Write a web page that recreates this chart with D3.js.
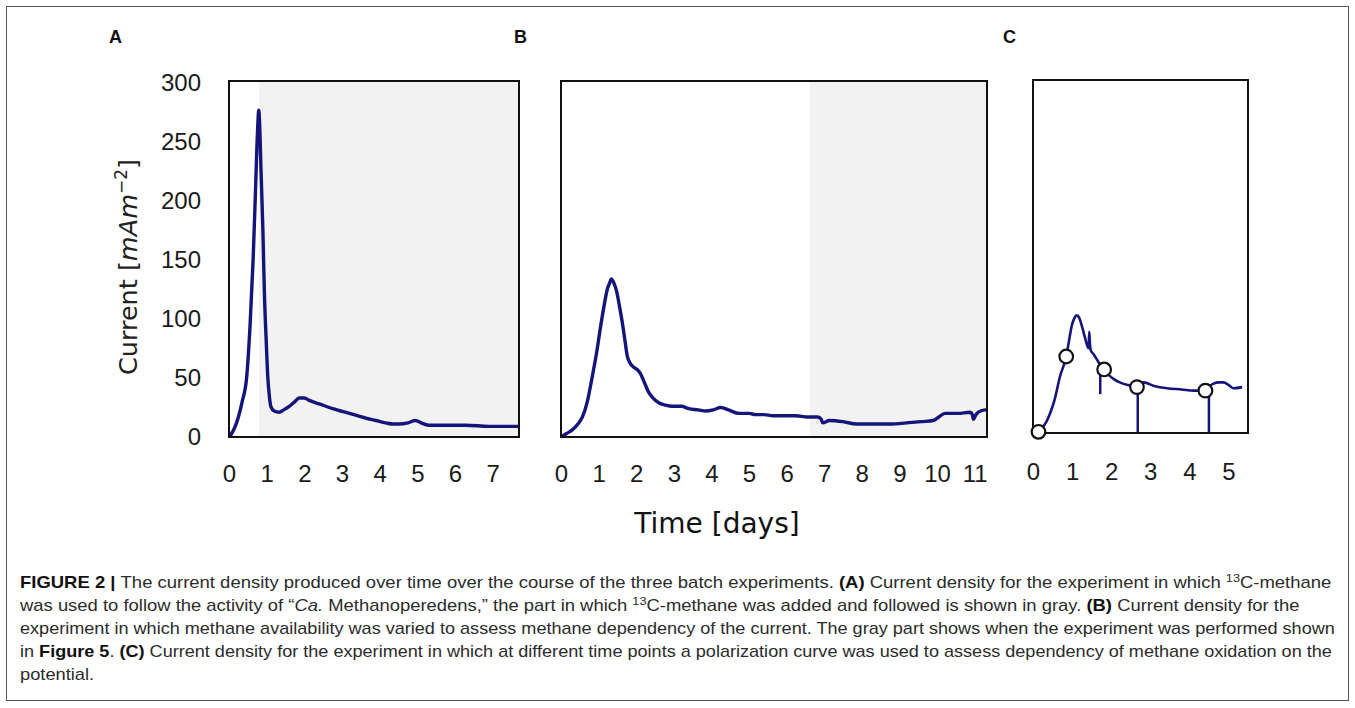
<!DOCTYPE html>
<html>
<head>
<meta charset="utf-8">
<script src="https://cdn.jsdelivr.net/npm/d3@7"></script>
<style>
  html, body { margin: 0; padding: 0; background: #fff; }
  svg { display: block; }
</style>
</head>
<body>
<svg id="chart" width="1355" height="708"></svg>
<script>
// ---------------- DATA ----------------
const yTicks = [0, 50, 100, 150, 200, 250, 300];
const aTicks = [0, 1, 2, 3, 4, 5, 6, 7];
const bTicks = [0, 1, 2, 3, 4, 5, 6, 7, 8, 9, 10, 11];
const cTicks = [0, 1, 2, 3, 4, 5];

// Panel A (days, mA m^-2)
const aDays    = [0.02, 0.07, 0.2, 0.35, 0.47, 0.56, 0.64, 0.70, 0.74, 0.77, 0.79, 0.81, 0.85, 0.90, 0.94, 0.99, 1.03, 1.07, 1.11, 1.20, 1.33, 1.45, 1.60, 1.75, 1.86, 2.00, 2.13, 2.40, 2.75, 3.20, 3.63, 3.90, 4.16, 4.35, 4.51, 4.75, 4.95, 5.10, 5.30, 5.80, 6.28, 6.90, 7.60, 7.68];
const aCurrent = [1, 3, 12, 30, 51, 95, 150, 205, 245, 268, 277, 268, 226, 175, 122, 80, 51, 35, 26, 22, 21, 23, 26, 30, 33, 33, 31, 28, 24, 20, 16, 14, 12, 11, 11, 12, 14, 12, 10, 10, 10, 9, 9, 9];
const aGrayStart = 0.8;

// Panel B
const bDays    = [0.0, 0.15, 0.30, 0.45, 0.57, 0.70, 0.83, 0.95, 1.05, 1.15, 1.23, 1.30, 1.34, 1.40, 1.49, 1.56, 1.63, 1.70, 1.76, 1.85, 1.94, 2.03, 2.11, 2.22, 2.33, 2.45, 2.60, 2.78, 2.96, 3.20, 3.40, 3.65, 3.85, 4.05, 4.25, 4.45, 4.74, 5.00, 5.18, 5.40, 5.63, 5.95, 6.25, 6.55, 6.83, 6.92, 6.96, 7.14, 7.50, 7.86, 8.30, 8.80, 9.19, 9.60, 9.90, 10.05, 10.21, 10.55, 10.88, 10.94, 10.97, 11.02, 11.10, 11.28, 11.33];
const bCurrent = [0, 3, 6, 11, 17, 30, 51, 72, 93, 112, 125, 131, 134, 131, 122, 110, 97, 82, 69, 62, 59, 57, 54, 46, 38, 33, 29, 27, 26, 26, 24, 23, 22, 23, 25, 23, 20, 20, 19, 19, 18, 18, 18, 17, 17, 15, 12, 14, 13, 11, 11, 11, 12, 13, 14, 17, 20, 20, 21, 19, 15, 18, 21, 23, 23];
const bGrayStart = 6.62;

// Panel C
const cDays    = [0.14, 0.25, 0.35, 0.44, 0.55, 0.69, 0.85, 0.93, 0.99, 1.05, 1.12, 1.18, 1.25, 1.33, 1.42, 1.44, 1.46, 1.48, 1.55, 1.68, 1.82, 1.95, 2.06, 2.22, 2.40, 2.55, 2.66, 2.75, 2.83, 3.10, 3.43, 3.80, 4.11, 4.41, 4.52, 4.62, 4.75, 4.87, 5.00, 5.13, 5.35];
const cCurrent = [1, 5, 10, 17, 28, 48, 65, 80, 91, 97, 100, 98, 91, 81, 72, 86, 74, 70, 67, 60, 54, 49, 46, 43, 41, 40, 40, 42, 43, 40, 38, 37, 36, 36, 40, 42, 43, 43, 41, 38, 39];
const cMarkDays    = [0.14, 0.85, 1.82, 2.66, 4.41];
const cMarkCurrent = [1, 65, 54, 39, 36];
const cDropDays   = [1.72, 2.68, 4.50];
const cDropTop    = [56, 40, 38];
const cDropBottom = [33, 0, 0];

const panelLetters = ["A", "B", "C"];
const yTitle = "Current";
const xTitle = "Time [days]";

const captionLines = [
  [["b", "FIGURE 2 | "], ["n", "The current density produced over time over the course of the three batch experiments. "], ["b", "(A)"], ["n", " Current density for the experiment in which "], ["sup", "13"], ["n2", "C-methane"]],
  [["n", "was used to follow the activity of \u201C"], ["i", "Ca."], ["n", " Methanoperedens,\u201D the part in which "], ["sup", "13"], ["n2", "C-methane was added and followed is shown in gray. "], ["b", "(B)"], ["n", " Current density for the"]],
  [["n", "experiment in which methane availability was varied to assess methane dependency of the current. The gray part shows when the experiment was performed shown"]],
  [["n", "in "], ["b", "Figure 5"], ["n", ". "], ["b", "(C)"], ["n", " Current density for the experiment in which at different time points a polarization curve was used to assess dependency of methane oxidation on the"]],
  [["n", "potential."]]
];
const captionWidths = [1313, 1280, 1316, 1313, null];

// ---------------- DRAW ----------------
const svg = d3.select("#chart");
const LINE = "#14147a";
const GRAY = "#f2f2f2";
const FONT = "'Liberation Sans', Arial, sans-serif";

// outer border
svg.append("rect").attr("x", 6.5).attr("y", 6.5).attr("width", 1342).attr("height", 694)
  .attr("fill", "none").attr("stroke", "#555").attr("stroke-width", 1);

const panels = [
  {days: aDays, cur: aCurrent, ticks: aTicks, xmax: 7.7, left: 229, right: 519, top: 81, bottom: 437, y300: 83, gray: aGrayStart, lw: 3.4, pad: 28, letterX: 109},
  {days: bDays, cur: bCurrent, ticks: bTicks, xmax: 11.33, left: 561, right: 987, top: 81, bottom: 437, y300: 83, gray: bGrayStart, lw: 3.4, pad: 28, letterX: 514},
  {days: cDays, cur: cCurrent, ticks: cTicks, xmax: 5.5, left: 1033, right: 1248, top: 80, bottom: 433, y300: 80, gray: null, lw: 2.6, pad: 30, letterX: 1003}
];

panels.forEach((p, i) => {
  const x = d3.scaleLinear().domain([0, p.xmax]).range([p.left, p.right]);
  const y = d3.scaleLinear().domain([0, 300]).range([p.bottom, p.y300]);
  const g = svg.append("g");

  if (p.gray !== null) {
    g.append("rect").attr("x", x(p.gray)).attr("y", p.top + 1)
      .attr("width", x(p.xmax) - x(p.gray) - 1).attr("height", p.bottom - p.top - 2)
      .attr("fill", GRAY);
  }

  const line = d3.line().x((d, k) => x(p.days[k])).y((d, k) => y(p.cur[k])).curve(d3.curveMonotoneX);
  g.append("path").datum(p.cur).attr("d", line).attr("fill", "none")
    .attr("stroke", LINE).attr("stroke-width", p.lw).attr("stroke-linejoin", "round");

  if (i === 2) {
    g.selectAll("line.drop").data(cDropDays).enter().append("line")
      .attr("x1", d => x(d)).attr("x2", d => x(d))
      .attr("y1", (d, k) => y(cDropTop[k])).attr("y2", (d, k) => y(cDropBottom[k]))
      .attr("stroke", LINE).attr("stroke-width", 2.5);
  }

  g.append("rect").attr("x", p.left).attr("y", p.top).attr("width", p.right - p.left)
    .attr("height", p.bottom - p.top).attr("fill", "none").attr("stroke", "#111").attr("stroke-width", 2);

  if (i === 2) {
    g.selectAll("circle").data(cMarkDays).enter().append("circle")
      .attr("cx", d => x(d)).attr("cy", (d, k) => y(cMarkCurrent[k])).attr("r", 6.8)
      .attr("fill", "#fff").attr("stroke", "#111").attr("stroke-width", 2.2);
  }

  const ax = g.append("g").attr("transform", `translate(0,${p.bottom})`)
    .call(d3.axisBottom(x).tickValues(p.ticks).tickSize(0).tickPadding(p.pad).tickFormat(d3.format("d")));
  ax.select(".domain").remove();
  ax.selectAll("text").attr("font-size", 24).attr("font-family", FONT).attr("fill", "#1a1a1a");

  if (i === 0) {
    const ay = g.append("g").attr("transform", `translate(${p.left},0)`)
      .call(d3.axisLeft(y).tickValues(yTicks).tickSize(0).tickPadding(28));
    ay.select(".domain").remove();
    ay.selectAll("text").attr("font-size", 24).attr("font-family", FONT).attr("fill", "#1a1a1a");
  }

  svg.append("text").attr("x", p.letterX).attr("y", 43).text(panelLetters[i])
    .attr("font-family", FONT).attr("font-weight", "bold").attr("font-size", 18).attr("fill", "#111");
});

// y title
const yt = svg.append("text").attr("transform", "translate(137,267) rotate(-90)")
  .attr("text-anchor", "middle").attr("font-family", "'DejaVu Sans', sans-serif").attr("font-size", 25.5).attr("fill", "#222");
yt.append("tspan").text(yTitle + " [");
yt.append("tspan").attr("font-style", "italic").text("mAm");
yt.append("tspan").attr("font-style", "italic").attr("dy", -10).attr("font-size", 17).text("\u2212");
yt.append("tspan").attr("font-size", 17).text("2");
yt.append("tspan").attr("dy", 10).text("]");

// x title
svg.append("text").attr("x", 717).attr("y", 533).attr("text-anchor", "middle")
  .attr("font-family", "'DejaVu Sans', sans-serif").attr("font-size", 28).attr("fill", "#111").text(xTitle);

// caption
const capG = svg.append("g");
const scales = [];
const widths = [];
captionLines.forEach((parts, li) => {
  const t = capG.append("text").attr("x", 0).attr("y", 0)
    .attr("font-family", FONT).attr("font-size", 16).attr("fill", "#2b2b2b");
  parts.forEach(([kind, s]) => {
    const ts = t.append("tspan").text(s);
    if (kind === "b") ts.attr("font-weight", "bold").attr("fill", "#111");
    if (kind === "i") ts.attr("font-style", "italic");
    if (kind === "sup") ts.attr("font-size", 11).attr("dy", -6);
    if (kind === "n2") ts.attr("dy", 6);
  });
  const w = t.node().getComputedTextLength();
  widths.push(w);
  const target = captionWidths[li];
  if (target) scales.push(target / w);
});
const avg = d3.mean(scales);
capG.selectAll("text").each(function (d, li) {
  const target = captionWidths[li];
  const sc = target ? target / widths[li] : avg;
  d3.select(this).attr("transform", `translate(20,${588 + li * 23}) scale(${sc},1)`);
});
</script>
</body>
</html>
